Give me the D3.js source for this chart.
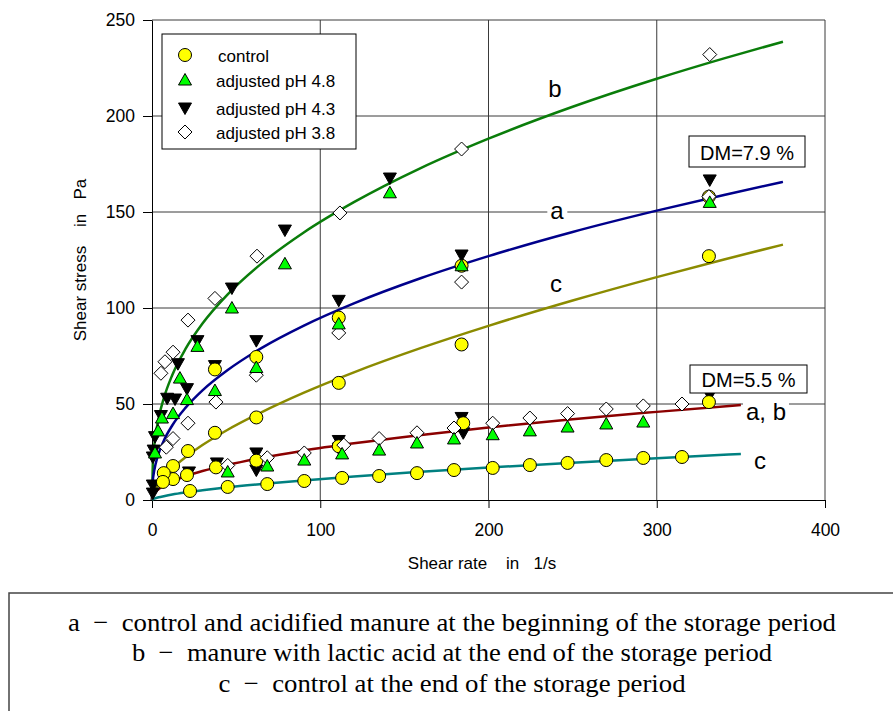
<!DOCTYPE html>
<html><head><meta charset="utf-8">
<script src="https://cdn.jsdelivr.net/npm/d3@7"></script>
<style>
body{margin:0;background:#fff;}
svg{display:block;}
</style></head>
<body>
<svg id="chart" width="893" height="711" font-family="'Liberation Sans', Arial, sans-serif"></svg>
<script>
// ---- data ----
const xTicks = [0, 100, 200, 300, 400];
const yTicks = [0, 50, 100, 150, 200, 250];
const seriesNames = ["control", "adjusted pH 4.8", "adjusted pH 4.3", "adjusted pH 3.8"];

const controlX = [331, 331, 331, 184, 184, 185, 111, 111, 111, 62, 62, 62, 37.4, 37.4, 38, 21.4, 20.8, 12.5, 12.5, 7, 6.5,
                  22.6, 45, 68.5, 90.5, 113, 135, 157.5, 179.5, 202.5, 224.6, 247, 270, 292, 315];
const controlY = [158, 127, 51, 122, 81, 40, 95, 61, 28, 74.5, 43, 20.5, 68, 35, 17, 25.5, 13, 17.7, 10.9, 14, 9.4,
                  4.7, 6.8, 8.3, 9.9, 11.5, 12.5, 14, 15.6, 16.7, 18.2, 19.3, 20.8, 21.9, 22.4];

const ph48X = [141.4, 79, 47.5, 27, 16.6, 12.5, 5.9, 3.6, 1.8,
               331.5, 184, 111, 62, 37.4, 20.8,
               45, 68.5, 90.5, 113, 135, 157.5, 179.5, 202.5, 224.6, 247, 270, 292];
const ph48Y = [160, 123, 100, 80, 63.5, 45, 42.7, 36, 24.5,
               155, 122, 91.7, 69, 57, 52.3,
               14.6, 17.7, 20.8, 24, 26, 29.7, 31.8, 34, 36, 38, 39.6, 40.6];

const ph43X = [141.4, 79, 47.5, 27, 15.4, 13.7, 9, 5.3, 1.8, 1, 0.5, 0.5, 0.5,
               331.5, 184, 111, 62, 37.4, 20.8,
               331.5, 184, 185, 111, 111, 62, 62, 38.6, 22];
const ph43Y = [167.7, 140.6, 110.4, 83, 71, 52.6, 53, 44, 33, 26, 22.4, 7.8, 3.6,
               166.7, 127.6, 104, 83, 70, 58,
               54.7, 43, 35, 31, 27, 24.5, 15.6, 19.3, 14.6];

const ph38X = [331.5, 184, 111.7, 62.4, 37.4, 21.4, 12.5, 7.7, 5.3,
               331, 184, 111, 62, 38, 21.4, 12.5, 8.5,
               45, 68.5, 90.5, 114, 135, 157.5, 179.5, 202.5, 224.6, 247, 270, 292, 315];
const ph38Y = [232, 182.8, 149.5, 127, 105, 93.7, 77, 72, 66,
               158, 113.5, 87, 65, 51, 40, 32, 27.5,
               18, 22, 24.5, 28.6, 32, 35, 37.5, 40, 42.7, 45, 47.4, 49, 50];

// fitted curves
const curveX   = [0, 0.5, 1, 2, 4, 7, 12, 20, 30, 45, 65, 90, 120, 160, 200, 250, 300, 340, 375];
const curveB   = [0, 19.5, 25.4, 33.0, 42.9, 53.0, 65.0, 78.8, 91.9, 107.1, 123.1, 139.2, 155.1, 173.0, 188.2, 204.8, 219.4, 230.0, 238.7];
const curveA   = [0, 10.1, 13.6, 18.2, 24.4, 30.9, 38.8, 48.1, 57.1, 67.7, 79.1, 90.7, 102.4, 115.6, 127.0, 139.6, 150.7, 158.9, 165.7];
const curveC   = [0, 2.4, 3.6, 5.5, 8.4, 11.8, 16.4, 22.3, 28.6, 36.6, 45.7, 55.8, 66.5, 79.2, 90.7, 103.9, 116.1, 125.3, 133.0];
const lowX     = [0, 0.5, 1, 2, 4, 7, 12, 20, 30, 45, 65, 90, 120, 160, 200, 250, 300, 350];
const curveAB5 = [0, 2.1, 2.9, 4.1, 5.7, 7.5, 9.7, 12.4, 15.1, 18.3, 21.9, 25.7, 29.5, 33.9, 37.8, 42.1, 45.9, 49.5];
const curveC5  = [0, 0.4, 0.6, 0.9, 1.4, 2.0, 2.9, 4.0, 5.1, 6.6, 8.3, 10.2, 12.3, 14.7, 16.9, 19.4, 21.8, 24.0];

const legendText = ["a  \u2212  control and acidified manure at the beginning of the storage period",
                    "b  \u2212  manure with lactic acid at the end of the storage period",
                    "c  \u2212  control at the end of the storage period"];

// ---- drawing ----
const svg = d3.select("#chart");
const L = 152, R = 825, T = 20, B = 500;
const x = d3.scaleLinear().domain([0, 400]).range([L, R]);
const y = d3.scaleLinear().domain([0, 250]).range([B, T]);

// grid
const grid = svg.append("g");
grid.selectAll("line.h").data(yTicks.slice(1)).join("line")
  .attr("x1", L).attr("x2", R).attr("y1", d => y(d)).attr("y2", d => y(d))
  .attr("stroke", "#3a3a3a").attr("stroke-width", 1);
grid.selectAll("line.v").data(xTicks.slice(1)).join("line")
  .attr("x1", d => x(d)).attr("x2", d => x(d)).attr("y1", T).attr("y2", B)
  .attr("stroke", "#3a3a3a").attr("stroke-width", 1);

// axes
const ax = svg.append("g").attr("transform", `translate(0,${B})`)
  .call(d3.axisBottom(x).tickValues(xTicks).tickSize(8).tickSizeOuter(0).tickPadding(16));
const ay = svg.append("g").attr("transform", `translate(${L},0)`)
  .call(d3.axisLeft(y).tickValues(yTicks).tickSize(9).tickSizeOuter(0).tickPadding(8));
[ax, ay].forEach(g => {
  g.attr("font-family", null).attr("font-size", null);
  g.selectAll("text").attr("font-size", 17.5).attr("fill", "#000");
  g.selectAll("line").attr("stroke", "#000");
  g.select(".domain").attr("stroke", "#000");
});

svg.append("text").attr("x", 482).attr("y", 569).attr("text-anchor", "middle")
  .attr("font-size", 17).style("white-space", "pre").text("Shear rate    in   1/s");
svg.append("text").attr("transform", "translate(86,260) rotate(-90)").attr("text-anchor", "middle")
  .attr("font-size", 17).style("white-space", "pre").text("Shear stress    in   Pa");

// curves
const line = d3.line().x(d => x(d[0])).y(d => y(d[1])).curve(d3.curveMonotoneX);
const curves = [
  [curveX, curveB, "#0a7d0a"],
  [curveX, curveA, "#00008b"],
  [curveX, curveC, "#8b8b00"],
  [lowX, curveAB5, "#8b0000"],
  [lowX, curveC5, "#008080"]
];
curves.forEach(([xs, ys, col]) => {
  svg.append("path").datum(xs.map((v, i) => [v, ys[i]])).attr("d", line)
    .attr("fill", "none").attr("stroke", col).attr("stroke-width", 2.5);
});

// markers
const zip = (xs, ys) => xs.map((v, i) => [v, ys[i]]);
function marker(g, kind, px, py) {
  if (kind === "circle") {
    g.append("circle").attr("cx", px).attr("cy", py).attr("r", 6.5)
      .attr("fill", "#ffff00").attr("stroke", "#000").attr("stroke-width", 1);
  } else if (kind === "up") {
    g.append("path").attr("d", "M0,-6.5L6.5,5L-6.5,5Z").attr("transform", `translate(${px},${py})`)
      .attr("fill", "#00ff00").attr("stroke", "#000").attr("stroke-width", 1);
  } else if (kind === "down") {
    g.append("path").attr("d", "M0,6.5L6.5,-5L-6.5,-5Z").attr("transform", `translate(${px},${py})`)
      .attr("fill", "#000").attr("stroke", "#000").attr("stroke-width", 1);
  } else {
    g.append("path").attr("d", "M0,-7L7,0L0,7L-7,0Z").attr("transform", `translate(${px},${py})`)
      .attr("fill", "#fff").attr("stroke", "#000").attr("stroke-width", 1);
  }
}
function drawSeries(data, kind) {
  const g = svg.append("g");
  data.forEach(d => marker(g, kind, x(d[0]), y(d[1])));
}
drawSeries(zip(ph43X, ph43Y), "down");
drawSeries(zip(controlX, controlY), "circle");
drawSeries(zip(ph38X, ph38Y), "diamond");
drawSeries(zip(ph48X, ph48Y), "up");

// curve labels
function label(t, cx, cy, bg, size) {
  const tx = svg.append("text").attr("x", cx).attr("y", cy).attr("text-anchor", "middle")
    .attr("dominant-baseline", "central").attr("font-size", size || 24).text(t);
  if (bg) {
    const bb = tx.node().getBBox();
    svg.insert("rect", () => tx.node()).attr("x", bb.x - 3).attr("y", bb.y + 4).attr("width", bb.width + 6)
      .attr("height", bb.height - 8).attr("fill", "#fff");
  }
}
label("b", 555, 88);
label("a", 557, 210, true);
label("c", 556, 283);
label("a, b", 766, 411, true);
label("c", 760, 460);

// DM boxes
function box(t, x0, y0, w, h) {
  svg.append("rect").attr("x", x0).attr("y", y0).attr("width", w).attr("height", h)
    .attr("fill", "#fff").attr("stroke", "#000").attr("stroke-width", 1);
  svg.append("text").attr("x", x0 + w / 2).attr("y", y0 + h / 2 + 1).attr("text-anchor", "middle")
    .attr("dominant-baseline", "central").attr("font-size", 20).text(t);
}
box("DM=7.9 %", 689, 136, 116, 31);
box("DM=5.5 %", 690, 365, 117, 28);

// legend
svg.append("rect").attr("x", 162).attr("y", 34).attr("width", 194).attr("height", 115)
  .attr("fill", "#fff").attr("stroke", "#000").attr("stroke-width", 1);
const legRows = [55, 80, 108, 132];
const legKinds = ["circle", "up", "down", "diamond"];
const lg = svg.append("g");
legKinds.forEach((k, i) => {
  marker(lg, k, 185, legRows[i]);
  lg.append("text").attr("x", k === "circle" ? 218 : 216).attr("y", legRows[i] + 1).attr("dominant-baseline", "central")
    .attr("font-size", 17).text(seriesNames[i]);
});

// bottom description box
svg.append("rect").attr("x", 9).attr("y", 593).attr("width", 900).attr("height", 140)
  .attr("fill", "none").attr("stroke", "#444").attr("stroke-width", 1.5);
const lineY = [622, 652, 683];
const lineW = [768, 640, 467];
legendText.forEach((t, i) => {
  svg.append("text").attr("x", 452).attr("y", lineY[i]).attr("text-anchor", "middle")
    .attr("dominant-baseline", "central").attr("font-family", "'Liberation Serif', 'Times New Roman', serif")
    .attr("font-size", 26).attr("textLength", lineW[i]).attr("lengthAdjust", "spacingAndGlyphs")
    .style("white-space", "pre").text(t);
});
</script>
</body></html>
